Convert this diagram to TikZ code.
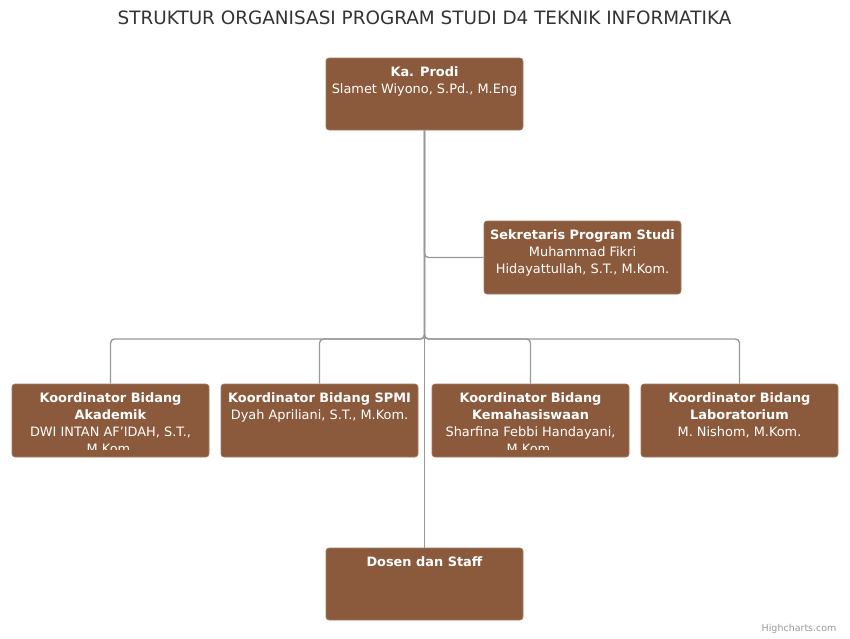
\documentclass[tikz,border=0pt]{standalone}
\usepackage{fontspec}
\setmainfont{DejaVu Sans}
\definecolor{boxc}{HTML}{8B5A3C}
\definecolor{linec}{HTML}{999999}
\definecolor{titlec}{HTML}{333333}
\definecolor{creditc}{HTML}{999999}
\tikzset{
  orgbox/.style={rectangle, rounded corners=3pt, fill=boxc, draw=boxc!80!white, line width=0.6pt, minimum width=197pt, minimum height=72pt, inner sep=0pt},
  orgtext/.style={anchor=north, align=center, text=white, inner sep=0pt, font=\fontsize{12.9}{16.8}\selectfont},
  conn/.style={draw=linec, line width=1.4pt, rounded corners=4pt},
}
\begin{document}
\begin{tikzpicture}[x=1pt,y=-1pt]
\useasboundingbox[fill=white] (0,0) rectangle (850,638);
\node[text=titlec, font=\fontsize{18.4}{22}\selectfont] (title) at (424.5,18) {STRUKTUR ORGANISASI PROGRAM STUDI D4 TEKNIK INFORMATIKA};

% boxes
\node[orgbox] (kp) at (424.5,94) {};
\node[orgbox, minimum height=73pt] (sek) at (582.5,257.5) {};
\node[orgbox, minimum height=73pt] (k1) at (110.5,420.5) {};
\node[orgbox, minimum height=73pt] (k2) at (319.5,420.5) {};
\node[orgbox, minimum height=73pt] (k3) at (530.5,420.5) {};
\node[orgbox, minimum height=73pt] (k4) at (739.5,420.5) {};
\node[orgbox] (ds) at (424.5,584) {};

% connectors
\coordinate (bus) at (424.5,339);
\draw[conn] (kp.south) -- (ds.north);
\draw[conn] (kp.south) |- (sek.west);
\draw[conn] (kp.south) -- (bus) -| (k1.north);
\draw[conn] (kp.south) -- (bus) -| (k2.north);
\draw[conn] (kp.south) -- (bus) -| (k3.north);
\draw[conn] (kp.south) -- (bus) -| (k4.north);

% texts
\node[orgtext] (tkp) at ([yshift=-9pt]kp.north) {\textbf{Ka. Prodi}\\Slamet Wiyono, S.Pd., M.Eng};
\node[orgtext] (tsek) at ([yshift=-9pt]sek.north) {\textbf{Sekretaris Program Studi}\\Muhammad Fikri\\Hidayattullah, S.T., M.Kom.};
\begin{scope}
\clip ([xshift=2pt]k1.north west) rectangle ([yshift=8pt]k1.south east);
\node[orgtext] (tk1) at ([yshift=-9pt]k1.north) {\textbf{Koordinator Bidang}\\\textbf{Akademik}\\DWI INTAN AF'IDAH, S.T.,\\M.Kom.};
\end{scope}
\node[orgtext] (tk2) at ([yshift=-9pt]k2.north) {\textbf{Koordinator Bidang SPMI}\\Dyah Apriliani, S.T., M.Kom.};
\begin{scope}
\clip ([xshift=2pt]k3.north west) rectangle ([yshift=8pt]k3.south east);
\node[orgtext] (tk3) at ([yshift=-9pt]k3.north) {\textbf{Koordinator Bidang}\\\textbf{Kemahasiswaan}\\Sharfina Febbi Handayani,\\M.Kom.};
\end{scope}
\node[orgtext] (tk4) at ([yshift=-9pt]k4.north) {\textbf{Koordinator Bidang}\\\textbf{Laboratorium}\\M. Nishom, M.Kom.};
\node[orgtext] (tds) at ([yshift=-9pt]ds.north) {\textbf{Dosen dan Staff}};

\node[text=creditc, font=\fontsize{9.5}{11}\selectfont, anchor=east] (credit) at (840,629) {Highcharts.com};
\end{tikzpicture}
\end{document}
